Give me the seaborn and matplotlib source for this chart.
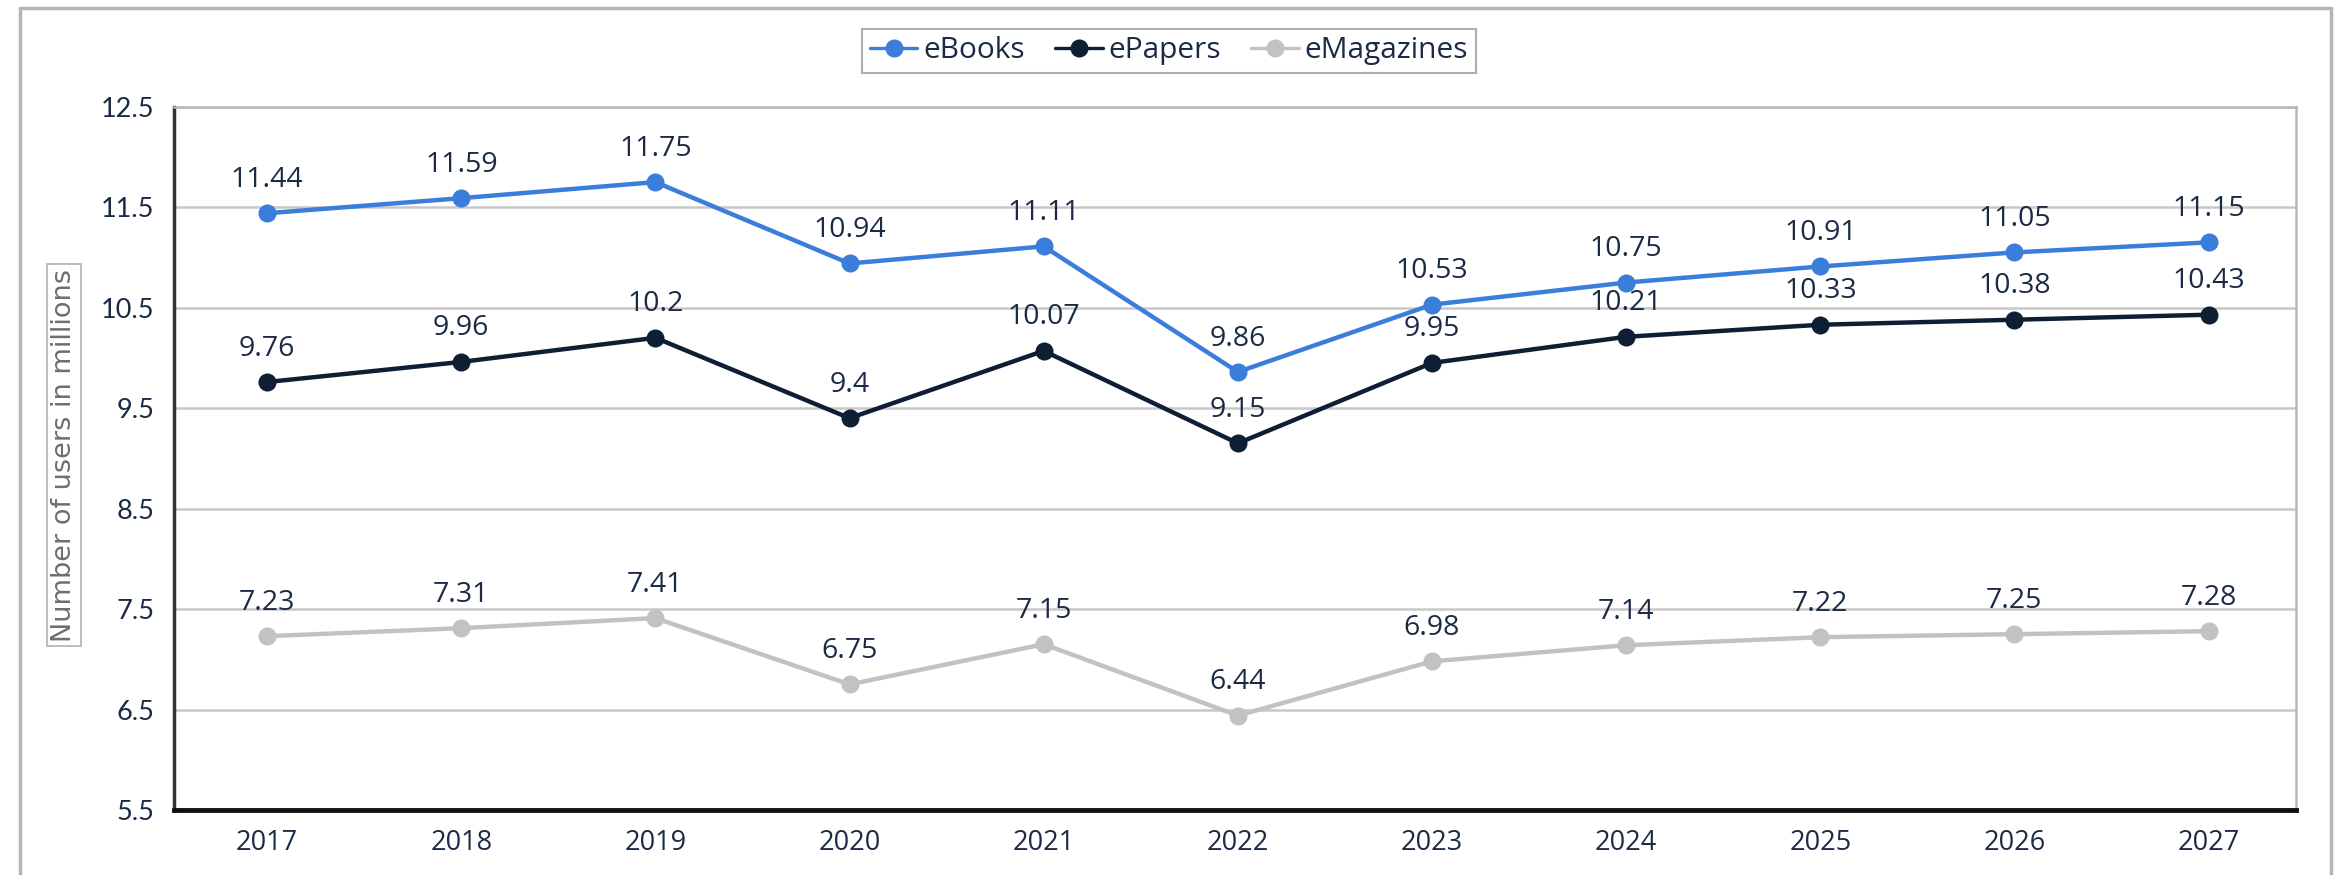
import numpy as np
import pandas as pd
import matplotlib
matplotlib.use("Agg")
import matplotlib.pyplot as plt
import seaborn as sns
from matplotlib.lines import Line2D

# data
years = [2017, 2018, 2019, 2020, 2021, 2022, 2023, 2024, 2025, 2026, 2027]
ebooks = [11.44, 11.59, 11.75, 10.94, 11.11, 9.86, 10.53, 10.75, 10.91, 11.05, 11.15]
epapers = [9.76, 9.96, 10.2, 9.4, 10.07, 9.15, 9.95, 10.21, 10.33, 10.38, 10.43]
emagazines = [7.23, 7.31, 7.41, 6.75, 7.15, 6.44, 6.98, 7.14, 7.22, 7.25, 7.28]
series_names = ["eBooks", "ePapers", "eMagazines"]
colors = ["#3b7ddb", "#0e1f33", "#c2c2c2"]
text_color = "#1b2b45"

sns.set_style("white")
plt.rcParams['font.family'] = ['Open Sans', 'DejaVu Sans']

df = pd.DataFrame({
    "pos": list(range(len(years))) * 3,
    "value": ebooks + epapers + emagazines,
    "series": [n for n in series_names for _ in years],
})

fig = plt.figure(figsize=(23.38, 8.75), dpi=100)
ax = fig.add_axes([0.0744, 0.0743, 0.9076, 0.8037])

sns.lineplot(data=df, x="pos", y="value", hue="series", palette=colors,
             marker="o", markersize=13, markeredgewidth=0, linewidth=3.2,
             ax=ax, legend=False)

# value labels
for vals in [ebooks, epapers, emagazines]:
    for i, v in enumerate(vals):
        ax.annotate(f"{v:g}", (i, v), xytext=(0, 14), textcoords="offset points",
                    ha="center", va="bottom", fontsize=20.5, color=text_color)

ax.set_xlim(-0.48, 10.45)
ax.set_ylim(5.5, 12.5)
ax.set_yticks(np.arange(5.5, 12.6, 1.0))
ax.set_yticklabels([f"{t:.1f}" for t in np.arange(5.5, 12.6, 1.0)],
                   fontsize=19.5, color=text_color, family=['Lato', 'DejaVu Sans'])
ax.set_xticks(range(len(years)))
ax.set_xticklabels([str(y) for y in years], fontsize=19.5, color=text_color)
ax.tick_params(axis="both", length=0, pad=14)
ax.yaxis.grid(True, color="#c8c8c8", linewidth=1.8)
ax.set_axisbelow(True)
ax.set_xlabel("")
ax.set_ylabel("")

ax.spines["top"].set_color("#b8b8b8")
ax.spines["top"].set_linewidth(1.8)
ax.spines["right"].set_color("#b8b8b8")
ax.spines["right"].set_linewidth(1.8)
ax.spines["left"].set_color("#333333")
ax.spines["left"].set_linewidth(2.5)
ax.spines["bottom"].set_color("#111111")
ax.spines["bottom"].set_linewidth(3.5)

# y label in a box
fig.text(0.0274, 0.48, "Number of users in millions", rotation=90,
         ha="center", va="center", fontsize=19.5, color="#6e6e6e",
         family=['Liberation Sans Narrow', 'DejaVu Sans'],
         bbox=dict(boxstyle="square,pad=0.15", facecolor="white",
                   edgecolor="#b0b0b0", linewidth=1.2))

# legend
handles = [Line2D([0], [0], color=c, marker="o", markersize=13,
                  markeredgewidth=0, linewidth=2.4) for c in colors]
leg = fig.legend(handles, series_names, loc="center", ncol=3,
                 bbox_to_anchor=(0.5, 0.942), fontsize=21.5, frameon=True,
                 fancybox=False, edgecolor="#999999", handlelength=1.6,
                 handletextpad=0.2, columnspacing=1.0, borderpad=0.25)
leg.get_frame().set_linewidth(1.5)
for t in leg.get_texts():
    t.set_color(text_color)

# outer frame
frame_color = "#b5b5b5"
fig.add_artist(Line2D([0.0086, 0.0086], [0, 0.991], color=frame_color, linewidth=2.5,
                      transform=fig.transFigure))
fig.add_artist(Line2D([0.9971, 0.9971], [0, 0.991], color=frame_color, linewidth=2.5,
                      transform=fig.transFigure))
fig.add_artist(Line2D([0.0086, 0.9971], [0.991, 0.991], color=frame_color, linewidth=2.5,
                      transform=fig.transFigure))

fig.savefig("out.png", dpi=100)
